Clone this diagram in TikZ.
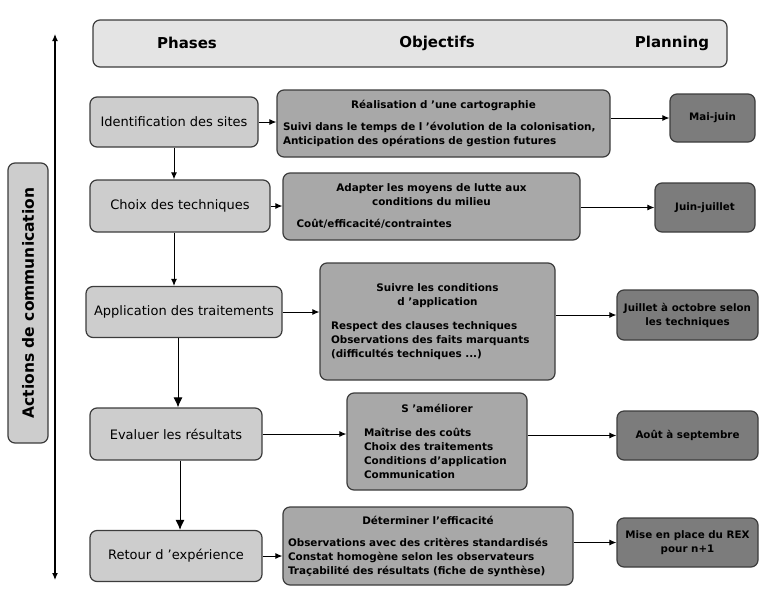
\documentclass[tikz,border=0pt]{standalone}
\usepackage{fontspec}
\setmainfont{DejaVu Sans}
\usepackage{tikz}
\usetikzlibrary{arrows.meta}

\definecolor{headgray}{HTML}{E4E4E4}
\definecolor{phasegray}{HTML}{CDCDCD}
\definecolor{objgray}{HTML}{A8A8A8}
\definecolor{plangray}{HTML}{7C7C7C}
\definecolor{edgegray}{HTML}{3C3C3C}

\begin{document}
\begin{tikzpicture}[x=1pt, y=-1pt, >={Latex[length=7pt,width=6pt]},
    box/.style={draw=edgegray, line width=1.2pt, rounded corners=7pt, inner sep=0pt},
    headbox/.style={box, fill=headgray},
    phasebox/.style={box, fill=phasegray, font=\fontsize{13}{15}\selectfont},
    objbox/.style={box, fill=objgray, align=left, font=\fontsize{10.4}{14}\selectfont\bfseries},
    planbox/.style={box, fill=plangray, align=center, font=\fontsize{10.3}{14}\selectfont\bfseries},
    title/.style={font=\fontsize{15}{17}\selectfont\bfseries},
    link/.style={->, line width=1pt}]
    \useasboundingbox (0,0) rectangle (760,592);
    % header
    \node [headbox, minimum width=634, minimum height=47] (head) at (410,43.5) {};
    \node [title] (t1) at (187,43) {Phases};
    \node [title] (t2) at (437,43) {Objectifs};
    \node [title] (t3) at (672,43) {Planning};
    % communication axis
    \coordinate (top) at (55,34);
    \coordinate (bot) at (55,580);
    \draw [<->, line width=1.2pt] (top) to (bot);
    \node [box, fill=phasegray, rotate=90, minimum width=280, minimum height=40,
           font=\fontsize{15.5}{17}\selectfont\bfseries] (act) at (28,303) {Actions de communication};
    % phases
    \node [phasebox, minimum width=168, minimum height=50] (ph1) at (174,122) {Identification des sites};
    \node [phasebox, minimum width=180, minimum height=52] (ph2) at (180,206) {Choix des techniques};
    \node [phasebox, minimum width=196, minimum height=51] (ph3) at (184,312) {Application des traitements};
    \node [phasebox, minimum width=172, minimum height=52] (ph4) at (176,434) {Evaluer les résultats};
    \node [phasebox, minimum width=172, minimum height=51] (ph5) at (176,556) {Retour d 'expérience};
    \draw [link] (ph1) to (ph1.south |- ph2.north);
    \draw [link] (ph2.south -| ph1.south) to (ph1.south |- ph3.north);
    \draw [link, >={Latex[length=10pt,width=9pt]}] (ph3.south -| 178,0) to (ph4.north -| 178,0);
    \draw [link, >={Latex[length=10pt,width=9pt]}] (ph4.south -| 180,0) to (ph5.north -| 180,0);
    % objectives
    \node [objbox, minimum width=333, minimum height=67, text width=321] (ob1) at (443.5,123.5)
      {{\centering Réalisation d 'une cartographie\par}\vspace{8pt}
       Suivi dans le temps de l 'évolution de la colonisation,\\
       Anticipation des opérations de gestion futures};
    \node [objbox, minimum width=297, minimum height=67, text width=270] (ob2) at (431.5,206.5)
      {{\centering Adapter les moyens de lutte aux\\ conditions du milieu\par}\vspace{8pt}
       Coût/efficacité/contraintes};
    \node [objbox, minimum width=235, minimum height=117, text width=213] (ob3) at (437.5,321.5)
      {{\centering Suivre les conditions\\ d 'application\par}\vspace{10pt}
       Respect des clauses techniques\\
       Observations des faits marquants\\
       (difficultés techniques ...)};
    \node [objbox, minimum width=180, minimum height=97, text width=146] (ob4) at (437,441.5)
      {{\centering S 'améliorer\par}\vspace{10pt}
       Maîtrise des coûts\\
       Choix des traitements\\
       Conditions d'application\\
       Communication};
    \node [objbox, minimum width=290, minimum height=78, text width=280] (ob5) at (428,546)
      {{\centering Déterminer l'efficacité\par}\vspace{8pt}
       Observations avec des critères standardisés\\
       Constat homogène selon les observateurs\\
       Traçabilité des résultats (fiche de synthèse)};
    % planning
    \node [planbox, minimum width=85, minimum height=48] (pl1) at (712.5,118) {Mai-juin};
    \node [planbox, minimum width=100, minimum height=49] (pl2) at (705,207.5) {Juin-juillet};
    \node [planbox, minimum width=141, minimum height=50] (pl3) at (687.5,315) {Juillet à octobre selon\\ les techniques};
    \node [planbox, minimum width=141, minimum height=49] (pl4) at (687.5,435.5) {Août à septembre};
    \node [planbox, minimum width=141, minimum height=49] (pl5) at (687.5,542.5) {Mise en place du REX\\ pour n+1};
    % phase -> objective -> planning
    \foreach \i in {1,...,5} {
      \draw [link] (ph\i) to (ph\i.east -| ob\i.west);
      \draw [link] (ob\i.east |- pl\i.west) to (pl\i);
    }
\end{tikzpicture}
\end{document}
